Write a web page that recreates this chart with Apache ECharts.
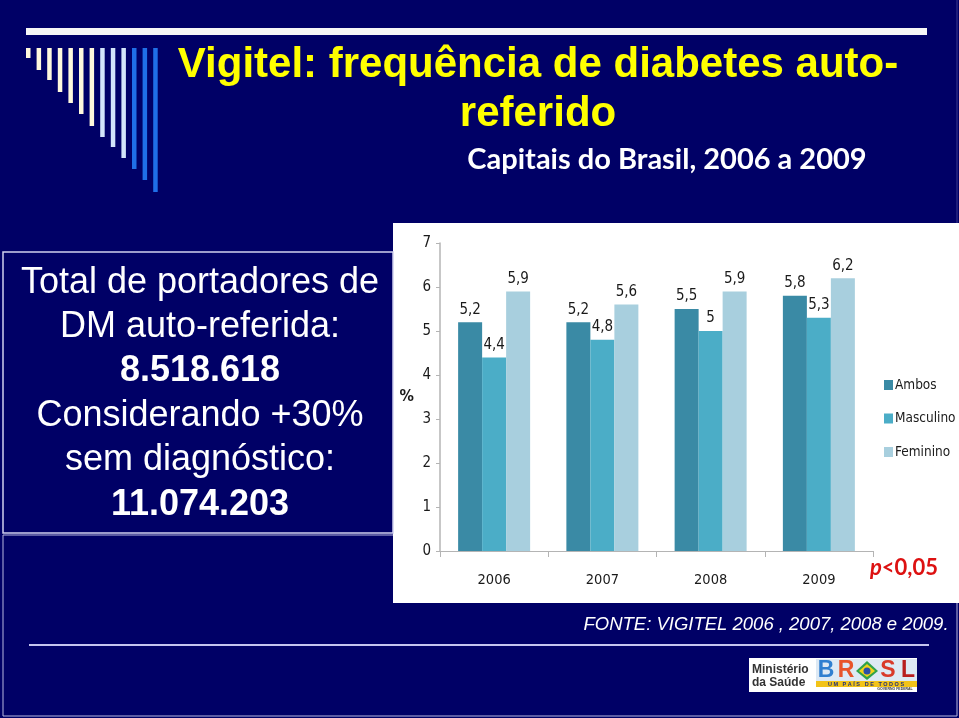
<!DOCTYPE html>
<html>
<head>
<meta charset="utf-8">
<script src="https://cdn.jsdelivr.net/npm/echarts@6/dist/echarts.min.js"></script>
<style>
html,body{margin:0;padding:0;background:#000066;}
#chart{width:959px;height:718px;}
</style>
</head>
<body>
<div id="chart"></div>
<script>
// ---- data ----
var years = ['2006', '2007', '2008', '2009'];
var seriesNames = ['Ambos', 'Masculino', 'Feminino'];
var ambos = [5.2, 5.2, 5.5, 5.8];
var masculino = [4.4, 4.8, 5.0, 5.3];
var feminino = [5.9, 5.6, 5.9, 6.2];
var yTicks = [0, 1, 2, 3, 4, 5, 6, 7];

var titleLines = ['Vigitel: frequência de diabetes auto-', 'referido'];
var subtitle = 'Capitais do Brasil, 2006 a 2009';
var boxLines = [
  {t: 'Total de portadores de', b: false},
  {t: 'DM auto-referida:', b: false},
  {t: '8.518.618', b: true},
  {t: 'Considerando +30%', b: false},
  {t: 'sem diagnóstico:', b: false},
  {t: '11.074.203', b: true}
];
var fonteText = 'FONTE: VIGITEL 2006 , 2007, 2008 e 2009.';

// ---- styles ----
var NAVY = '#000066';
var NARROW = "'Liberation Sans Narrow', 'DejaVu Sans Condensed', 'Liberation Sans', sans-serif";
var colors = ['#3a8aa5', '#4badc7', '#a8cfde'];

var chart = echarts.init(document.getElementById('chart'), null, {renderer: 'canvas'});

var graphics = [];
// top white bar
graphics.push({type: 'rect', shape: {x: 26, y: 28, width: 901, height: 7}, style: {fill: '#f6f6f6'}});
// decorative bars
var barBottoms = [58, 70, 80, 92, 103, 114, 126, 137, 147, 158, 169, 180, 192];
for (var i = 0; i < barBottoms.length; i++) {
  var c = i < 7 ? '#fff8dc' : (i < 10 ? '#d2e4fa' : '#1f6fe8');
  graphics.push({type: 'rect', shape: {x: 26 + i * 10.6, y: 48, width: 4.5, height: barBottoms[i] - 48}, style: {fill: c}});
}
// title
graphics.push({type: 'text', style: {x: 538, y: 65, text: titleLines[0], font: 'bold 42px "Liberation Sans", Arial, sans-serif', fill: '#ffff00', align: 'center', verticalAlign: 'middle'}});
graphics.push({type: 'text', style: {x: 538, y: 114, text: titleLines[1], font: 'bold 42px "Liberation Sans", Arial, sans-serif', fill: '#ffff00', align: 'center', verticalAlign: 'middle'}});
graphics.push({type: 'text', style: {x: 667, y: 160, text: subtitle, font: 'bold 29px Lato, "Open Sans", sans-serif', fill: '#ffffff', align: 'center', verticalAlign: 'middle'}});
// right slide edge
graphics.push({type: 'line', shape: {x1: 957, y1: 0, x2: 957, y2: 223}, style: {stroke: '#3a3a90', lineWidth: 1}});

// left box borders
graphics.push({type: 'rect', z: -20, shape: {x: 3, y: 535, width: 954, height: 181}, style: {fill: NAVY, stroke: '#b8b8e0', lineWidth: 1}});
graphics.push({type: 'rect', shape: {x: 3, y: 252, width: 390, height: 281}, style: {fill: NAVY, stroke: '#d0d0ee', lineWidth: 1.5}});
var boxY = [283, 327, 371, 416, 460, 505];
for (var j = 0; j < boxLines.length; j++) {
  graphics.push({type: 'text', style: {x: 200, y: boxY[j], text: boxLines[j].t, font: (boxLines[j].b ? 'bold ' : '') + '36px "Liberation Sans", Arial, sans-serif', fill: '#ffffff', align: 'center', verticalAlign: 'middle'}});
}
// white chart panel (over lower box)
graphics.push({type: 'rect', z: -5, shape: {x: 393, y: 223, width: 566, height: 380}, style: {fill: '#ffffff'}});

// p<0,05
graphics.push({type: 'text', style: {x: 904, y: 568, text: '{i|p}{n|<0,05}', rich: {
  i: {font: 'italic bold 22px Lato, sans-serif', fill: '#dd1111'},
  n: {font: 'bold 22px Lato, sans-serif', fill: '#dd1111'}
}, align: 'center', verticalAlign: 'middle'}});

// FONTE
graphics.push({type: 'text', style: {x: 766, y: 625, text: fonteText, font: 'italic 18.5px "Liberation Sans", Arial, sans-serif', fill: '#ffffff', align: 'center', verticalAlign: 'middle'}});
// separator line
graphics.push({type: 'line', shape: {x1: 29, y1: 645, x2: 929, y2: 645}, style: {stroke: '#c4c4ee', lineWidth: 2}});

// logo
graphics.push({type: 'rect', shape: {x: 749, y: 658, width: 168, height: 34}, style: {fill: '#ffffff'}});
graphics.push({type: 'text', style: {x: 752, y: 670, text: 'Ministério', font: 'bold 12px "Liberation Sans", sans-serif', fill: '#333333', align: 'left', verticalAlign: 'middle'}});
graphics.push({type: 'text', style: {x: 752, y: 683, text: 'da Saúde', font: 'bold 12px "Liberation Sans", sans-serif', fill: '#333333', align: 'left', verticalAlign: 'middle'}});
graphics.push({type: 'rect', shape: {x: 816, y: 659, width: 101, height: 22}, style: {fill: '#dde9f4'}});
var logoLetters = [{t: 'B', x: 826, c: '#2f7fd0'}, {t: 'R', x: 846, c: '#e8542a'}, {t: 'S', x: 888, c: '#d93a2a'}, {t: 'L', x: 908, c: '#b81e1e'}];
logoLetters.forEach(function (L) {
  graphics.push({type: 'text', style: {x: L.x, y: 671, text: L.t, font: 'bold 23px "Liberation Sans", sans-serif', fill: L.c, align: 'center', verticalAlign: 'middle'}});
});
graphics.push({type: 'polygon', shape: {points: [[867, 661], [878, 671], [867, 680], [856, 671]]}, style: {fill: '#2fa24a'}});
graphics.push({type: 'polygon', shape: {points: [[867, 664], [875, 671], [867, 677], [859, 671]]}, style: {fill: '#f2d21b'}});
graphics.push({type: 'circle', shape: {cx: 867, cy: 671, r: 3.5}, style: {fill: '#2b4fa8'}});
graphics.push({type: 'rect', shape: {x: 816, y: 681, width: 101, height: 6}, style: {fill: '#f2c318'}});
graphics.push({type: 'text', style: {x: 866, y: 684, text: 'U M   P A Í S   D E   T O D O S', font: 'bold 5.5px "Liberation Sans", sans-serif', fill: '#1f2f7a', align: 'center', verticalAlign: 'middle'}});
graphics.push({type: 'text', style: {x: 895, y: 689.5, text: 'GOVERNO FEDERAL', font: 'bold 3.5px "Liberation Sans", sans-serif', fill: '#333', align: 'center', verticalAlign: 'middle'}});

function fmt(p) { return String(p.value).replace('.', ','); }

var option = {
  backgroundColor: NAVY,
  animation: false,
  color: colors,
  graphic: graphics,
  grid: {left: 440, top: 243, width: 433, height: 308, containLabel: false},
  legend: {
    orient: 'vertical', left: 884, top: 378, itemWidth: 9, itemHeight: 10, itemGap: 19.5, padding: 0,
    icon: 'rect', data: seriesNames,
    textStyle: {fontFamily: NARROW, fontSize: 13.5, color: '#1a1a1a', padding: [0, 0, 0, -3]}
  },
  xAxis: {
    type: 'category', data: years,
    axisLine: {lineStyle: {color: '#b4b4b4', width: 1}},
    axisTick: {show: true, length: 6, lineStyle: {color: '#b4b4b4'}},
    axisLabel: {fontFamily: NARROW, fontSize: 14.5, color: '#1a1a1a', margin: 22}
  },
  yAxis: {
    type: 'value', min: 0, max: 7, interval: 1,
    name: '%', nameLocation: 'middle', nameRotate: 0, nameGap: 26,
    nameTextStyle: {fontFamily: NARROW, fontSize: 16, fontWeight: 'bold', color: '#1a1a1a'},
    axisLine: {show: true, lineStyle: {color: '#b4b4b4', width: 1.5}},
    axisTick: {show: true, length: 4, lineStyle: {color: '#b4b4b4'}},
    splitLine: {show: false},
    axisLabel: {fontFamily: NARROW, fontSize: 15, color: '#1a1a1a', margin: 9,
      formatter: function (v) { return yTicks.indexOf(v) >= 0 ? String(v) : ''; }}
  },
  series: [
    {name: seriesNames[0], type: 'bar', data: ambos, barWidth: 24, barGap: '0%',
     label: {show: true, position: 'top', formatter: fmt, fontFamily: NARROW, fontSize: 15, color: '#1a1a1a'}},
    {name: seriesNames[1], type: 'bar', data: masculino, barWidth: 24, barGap: '0%',
     label: {show: true, position: 'top', formatter: fmt, fontFamily: NARROW, fontSize: 15, color: '#1a1a1a'}},
    {name: seriesNames[2], type: 'bar', data: feminino, barWidth: 24, barGap: '0%',
     label: {show: true, position: 'top', formatter: fmt, fontFamily: NARROW, fontSize: 15, color: '#1a1a1a'}}
  ]
};
chart.setOption(option);
</script>
</body>
</html>
